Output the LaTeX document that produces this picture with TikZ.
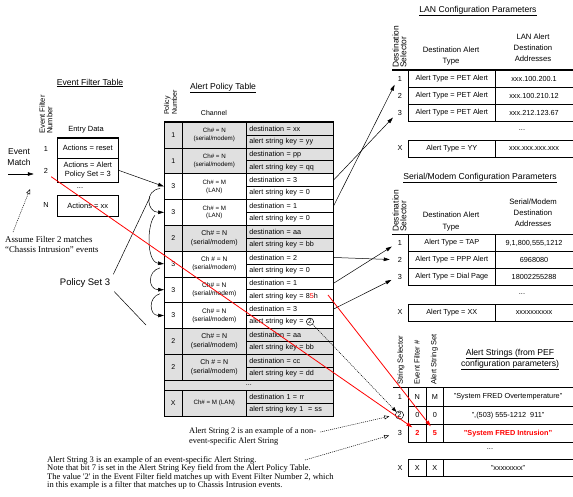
\documentclass[tikz,border=0pt]{standalone}
\usepackage{fontspec}
\setmainfont{Liberation Sans}
\newfontfamily\notefont{Liberation Serif}
\usetikzlibrary{arrows.meta}
\newcommand{\fsz}[2]{\fontsize{#1}{#2}\selectfont}
\definecolor{rowgray}{gray}{0.88}

% one entry of the alert policy table: name, top, fill, number, channel, channel style, destination, key
\newcommand{\prow}[8]{%
  \node[cell, fill=#3, minimum width=18pt, minimum height=25.8pt, font=\fsz{7}{8}] (#1n) at (164,#2) {#4};
  \node[cell, fill=#3, minimum width=64pt, minimum height=25.8pt, #6] (#1c) at (182,#2) {#5};
  \node[cell, fill=#3, minimum height=12.9pt, text width=81pt, inner xsep=3pt, align=left, font=\fsz{7.2}{8}] (#1d) at (246,#2) {#7};
  \node[cell, fill=#3, minimum height=12.9pt, text width=81pt, inner xsep=3pt, align=left, font=\fsz{7.2}{8}] (#1k) at (246,#2+12.9) {#8};
}
% one row of a configuration table: name, top, selector, type, address
\newcommand{\cfgrow}[5]{%
  \node[font=\fsz{7.3}{8}] (#1n) at (400,#2+8.5) {#3};
  \node[cell, minimum width=87pt, minimum height=17pt, font=\fsz{7.3}{8}] (#1t) at (408,#2) {#4};
  \node[cell, minimum width=77.5pt, minimum height=17pt, font=\fsz{7.3}{8}] (#1a) at (495,#2) {#5};
}
% one row of the alert string table: name, top, height, filter, set, string
\newcommand{\asrow}[6]{%
  \node[cell, minimum width=18pt, minimum height=#3pt, font=\fsz{7.3}{8}] (#1f) at (408,#2) {#4};
  \node[cell, minimum width=17pt, minimum height=#3pt, font=\fsz{7.3}{8}] (#1s) at (426,#2) {#5};
  \node[cell, minimum width=129.5pt, minimum height=#3pt, font=\fsz{7.3}{8}] (#1t) at (443,#2) {#6};
}

\begin{document}
\begin{tikzpicture}[x=1pt,y=-1pt,
  every node/.style={inner sep=0pt},
  cell/.style={draw, line width=0.6pt, anchor=north west, align=center, inner sep=0pt},
  rot/.style={rotate=90, anchor=west, align=left},
  rule/.style={line width=1.3pt},
  title/.style={font=\fsz{8.6}{10}, align=center},
  arr/.style={line width=0.5pt, -{Triangle[length=6pt,width=3.6pt]}},
  redarr/.style={red, line width=0.8pt, -{Triangle[length=6pt,width=3.6pt]}},
  dotarr/.style={line width=0.5pt, dash pattern=on 1pt off 1pt, -{Triangle[length=5pt,width=3.6pt]}},
  opendot/.style={line width=0.5pt, dash pattern=on 1pt off 1pt, -{Triangle[open,length=5pt,width=4pt]}},
  chs/.style={font=\fsz{6.2}{7.8}},
  chm/.style={font=\fsz{6.6}{8}},
  chb/.style={font=\fsz{7}{8.5}},
  note/.style={font=\notefont\fsz{8.4}{10}, align=left, anchor=north west}
]
\useasboundingbox (0,0) rectangle (573,496);

% ---------------- Event filter table ----------------
\node[title] (eftitle) at (90,83) {\underline{Event Filter Table}};
\node[rot, font=\fsz{7.6}{7.5}] (efhead) at (46,134) {Event Filter\\Number};
\node[font=\fsz{7.5}{9}] (efentry) at (86,130) {Entry Data};
\node[cell, minimum width=61pt, minimum height=20pt, font=\fsz{7.5}{9}] (f1) at (57,138) {Actions = reset};
\node[cell, minimum width=61pt, minimum height=24pt, font=\fsz{7.5}{9}] (f2) at (57,158) {Actions = Alert\\Policy Set = 3};
\node[font=\fsz{7.5}{9}] (fdots) at (80,188) {...};
\node[cell, minimum width=61pt, minimum height=21pt, font=\fsz{7.5}{9}] (fN) at (57,195) {Actions = xx};
\draw[rule] (f1.north west) -- (f1.north east);
\node[font=\fsz{7.3}{8}] (e1) at (46,149) {1};
\node[font=\fsz{7.3}{8}] (e2) at (46,171) {2};
\node[font=\fsz{7.3}{8}] (eN) at (46,205) {N};

\node[font=\fsz{8.5}{11}, align=center] (evm) at (19,157) {Event\\Match};
\coordinate (evin) at (8,174);
\draw[arr, shorten >=10pt] (evin) -- ([yshift=-3pt]e2.west);

\node[note, font=\notefont\fsz{8.8}{10}] (asm) at (5,236) {Assume Filter 2 matches\\“Chassis Intrusion” events};
\coordinate (asmtip) at (30,189);
\draw[opendot] ([xshift=8pt,yshift=4pt]asm.north west) -- (asmtip);

\node[font=\fsz{9.5}{11}] (ps3) at (85,283) {Policy Set 3};

% ---------------- Alert policy table ----------------
\node[title] (pttitle) at (223,88) {\underline{Alert Policy Table}};
\node[rot, font=\fsz{7}{6.5}] (pthead) at (170.5,115) {Policy\\Number};
\node[font=\fsz{7}{8}] (ptchan) at (214,113) {Channel};

\prow{p1}{121.7}{rowgray}{1}{Ch\# = N\\(serial/modem)}{chs}{destination = xx}{alert string key = yy}
\prow{p2}{147.5}{rowgray}{1}{Ch\# = N\\(serial/modem)}{chs}{destination = pp}{alert string key = qq}
\prow{p3}{173.3}{white}{3}{Ch\# = M\\(LAN)}{chs}{destination = 3}{alert string key = 0}
\prow{p4}{199.1}{white}{3}{Ch\# = M\\(LAN)}{chs}{destination = 1}{alert string key = 0}
\prow{p5}{224.9}{rowgray}{2}{Ch\# = N\\(serial/modem)}{chb}{destination = aa}{alert string key = bb}
\prow{p6}{250.7}{white}{3}{Ch \# = N\\(serial/modem)}{chm}{destination = 2}{alert string key = 0}
\prow{p7}{276.5}{white}{3}{Ch\# = N\\(serial/modem)}{chm}{destination = 1}{alert string key = 8{\color{red}5}h}
\prow{p8}{302.3}{white}{3}{Ch\# = N\\(serial/modem)}{chm}{destination = 3}{alert string key =}
\prow{p9}{328.1}{rowgray}{2}{Ch\# = N\\(serial/modem)}{chb}{destination = aa}{alert string key = bb}
\prow{p10}{353.9}{rowgray}{2}{Ch \# = N\\(serial/modem)}{chb}{destination = cc}{alert string key = dd}
\node[cell, fill=rowgray, minimum width=169pt, minimum height=10.3pt, font=\fsz{7}{7}] (pdots) at (164,379.7) {...};
\prow{px}{390}{rowgray}{X}{Ch\# = M (LAN)}{chs}{destination 1 = rr}{alert string key 1\ \ = ss}
\draw[rule] (p1n.north west) -- (p1d.north east);
\node[draw, circle, line width=0.5pt, inner sep=0.5pt, font=\fsz{6.5}{7}] (c8) at (310,321.7) {2};
\coordinate (red5) at (328,295);

% policy set 3 links
\draw[arr] (f2.east) -- (p3n.west);
\draw[arr] ([xshift=-4pt,yshift=-2pt]p3n.west) .. controls +(-16,2) and +(-17,0) .. (p4n.west);
\draw[arr] ([xshift=-9pt,yshift=-3pt]p4n.west) .. controls +(-8,8) and +(-18,-2) .. (p6n.west);
\draw[arr] ([xshift=-4pt,yshift=-4pt]p6n.west) .. controls +(-13,3) and +(-16,0) .. (p7n.west);
\draw[arr] ([xshift=-4pt,yshift=-4pt]p7n.west) .. controls +(-12,3) and +(-15,0) .. (p8n.west);
\coordinate (psa) at (150,197);
\coordinate (psb) at (146,325);
\draw[line width=0.5pt] ([xshift=3pt,yshift=4pt]ps3.north east) -- (psa);
\draw[line width=0.5pt] ([xshift=4pt,yshift=-4pt]ps3.south east) -- (psb);

% ---------------- LAN configuration ----------------
\node[title] (lantitle) at (478,11) {\underline{LAN Configuration Parameters}};
\node[rot, font=\fsz{8.4}{7.8}] (lanhead) at (399.5,68) {Destination\\Selector};
\node[font=\fsz{7.7}{11.5}, align=center] (lantype) at (451,56) {Destination Alert\\Type};
\node[font=\fsz{7.7}{11}, align=center] (lanaddr) at (533,48) {LAN Alert\\Destination\\Addresses};
\draw[rule] (392,70) -- (572.5,70);
\cfgrow{l1}{70}{1}{Alert Type = PET Alert}{xxx.100.200.1}
\cfgrow{l2}{87}{2}{Alert Type = PET Alert}{xxx.100.210.12}
\cfgrow{l3}{104}{3}{Alert Type = PET Alert}{xxx.212.123.67}
\node[font=\fsz{7.3}{8}] (ldots) at (522,130) {...};
\cfgrow{lx}{139.5}{X}{Alert Type = YY}{xxx.xxx.xxx.xxx}

% ---------------- Serial/modem configuration ----------------
\node[title] (sertitle) at (480,178) {\underline{Serial/Modem Configuration Parameters}};
\node[rot, font=\fsz{8.4}{7.8}] (serhead) at (399.5,232) {Destination\\Selector};
\node[font=\fsz{7.7}{11.5}, align=center] (sertype) at (451,221.5) {Destination Alert\\Type};
\node[font=\fsz{7.7}{11}, align=center] (seraddr) at (533,212.5) {Serial/Modem\\Destination\\Addresses};
\draw[rule] (392,234.3) -- (572.5,234.3);
\cfgrow{s1}{234.3}{1}{Alert Type = TAP}{9,1,800,555,1212}
\cfgrow{s2}{251.3}{2}{Alert Type = PPP Alert}{6968080}
\cfgrow{s3}{268.3}{3}{Alert Type = Dial Page}{18002255288}
\node[font=\fsz{7.3}{8}] (sdots) at (522,294) {...};
\cfgrow{sx}{303.5}{X}{Alert Type = XX}{xxxxxxxxxx}

% ---------------- Alert strings ----------------
\node[rot, font=\fsz{7.5}{8}] (ash1) at (401,385) {String Selector};
\node[rot, font=\fsz{7.5}{8}] (ash2) at (417,385) {Event Filter \#};
\node[rot, font=\fsz{7.5}{8}] (ash3) at (434.5,385) {Alert String Set};
\node[title] (astitle) at (510,359.5) {\underline{Alert Strings (from PEF}\\\underline{configuration parameters)}};
\draw[rule] (393,387.3) -- (572.5,387.3);
\asrow{a1}{387.3}{18.5}{N}{M}{"System FRED Overtemperature"}
\asrow{a2}{405.8}{18.5}{0}{0}{",(503) 555-1212\ \ 911"}
\asrow{a3}{424.3}{17.5}{\color{red}\bfseries 2}{\color{red}\bfseries 5}{\color{red}\bfseries "System FRED Intrusion"}
\node[font=\fsz{7.3}{8}] (adots) at (490,449) {...};
\asrow{ax}{459}{17}{X}{X}{"xxxxxxxx"}
\node[font=\fsz{7.3}{8}] (a1sel) at (400,396.5) {1};
\node[draw, circle, line width=0.5pt, inner sep=0.6pt, font=\fsz{7.3}{8}] (a2c) at (399.5,415) {2};
\node[font=\fsz{7.3}{8}] (a3sel) at (400,433) {3};
\node[font=\fsz{7.3}{8}] (axsel) at (400,467.5) {X};

% ---------------- destination links ----------------
\draw[arr, shorten >=7pt] (p3d.east) -- (l3n.west);
\draw[arr, shorten >=7pt] (p4d.east) -- (l1n.west);
\draw[arr, shorten >=8pt] (p6d.east) -- (s2n.west);
\draw[arr, shorten >=7pt] (p7d.east) -- (s1n.west);
\draw[arr, shorten >=7pt] (p8d.east) -- (s3n.west);

% ---------------- event-specific string links ----------------
\draw[redarr] ([xshift=3pt,yshift=-3pt]e2.south east) -- ([xshift=-5pt,yshift=6pt]a3f.center);
\draw[redarr] (red5) -- ([xshift=-4pt,yshift=7pt]a3s.center);
\draw[dotarr] (c8.south east) -- (a2c.north west);

% ---------------- notes ----------------
\node[note] (ann2) at (189,427) {Alert String 2 is an example of a non-\\event-specific Alert String};
\draw[opendot, shorten >=6pt] ([xshift=4pt,yshift=-5pt]ann2.north east) -- (a2c.west);
\node[note, font=\notefont\fsz{8.5}{8.6}] (ann3) at (47,456) {Alert String 3 is an example of an event-specific Alert String.\\Note that bit 7 is set in the Alert String Key field from the Alert Policy Table.\\The value '2' in the Event Filter field matches up with Event Filter Number 2, which\\in this example is a filter that matches up to Chassis Intrusion events.};
\coordinate (ann3tail) at (305,460);
\draw[opendot, shorten >=9pt] (ann3tail) -- (a3sel.west);
\end{tikzpicture}
\end{document}
